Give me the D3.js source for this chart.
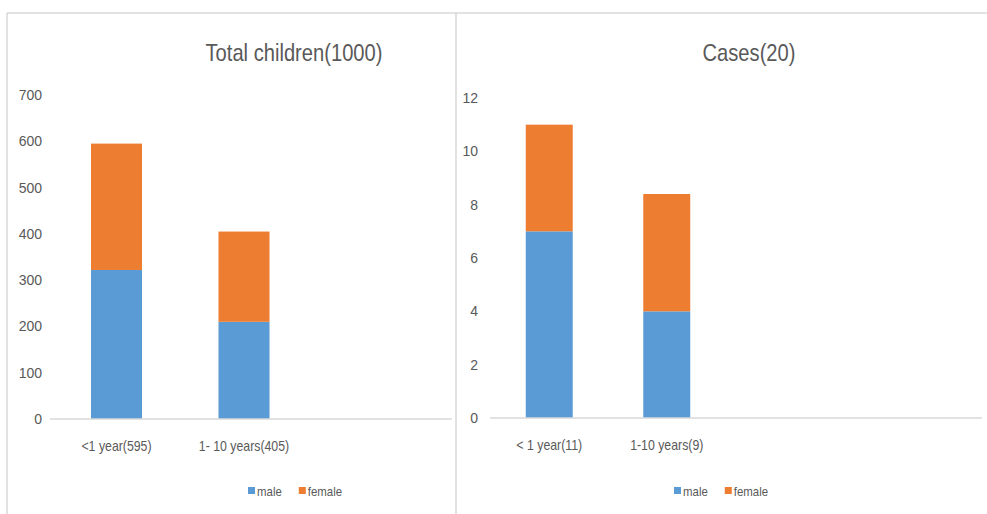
<!DOCTYPE html>
<html>
<head>
<meta charset="utf-8">
<script src="https://cdn.jsdelivr.net/npm/d3@7"></script>
<style>
  html, body { margin: 0; padding: 0; background: #fff; }
  svg { display: block; }
  text { font-family: "Liberation Sans", Arial, sans-serif; fill: #595959; }
</style>
</head>
<body>
<svg id="chart" width="987" height="514"></svg>
<script>
// ---- data ----
const seriesNames = ["male", "female"];
const seriesColors = ["#5B9BD5", "#ED7D31"];

const leftTitle = "Total children(1000)";
const leftCategories = ["<1 year(595)", "1- 10 years(405)"];
const leftMale = [322, 210];
const leftFemale = [273, 195];
const leftTicks = [0, 100, 200, 300, 400, 500, 600, 700];

const rightTitle = "Cases(20)";
const rightCategories = ["< 1 year(11)", "1-10 years(9)"];
const rightMale = [7, 4];
const rightFemale = [4, 4.4];
const rightTicks = [0, 2, 4, 6, 8, 10, 12];

// ---- drawing ----
const svg = d3.select("#chart");

// panel frames
const frame = svg.append("g").attr("fill", "none").attr("stroke", "#d9d9d9").attr("stroke-width", 1.5);
frame.append("line").attr("x1", 7).attr("x2", 987).attr("y1", 13).attr("y2", 13);
frame.append("line").attr("x1", 7).attr("x2", 7).attr("y1", 13).attr("y2", 514);
frame.append("line").attr("x1", 456).attr("x2", 456).attr("y1", 13).attr("y2", 514);

function drawPanel(cfg) {
  const g = svg.append("g");
  const y = d3.scaleLinear().domain([cfg.ticks[0], cfg.ticks[cfg.ticks.length - 1]]).range([cfg.y0, cfg.y1]);
  const x = d3.scaleBand().domain(cfg.categories).range([cfg.bandStart, cfg.bandStart + cfg.bandSpan])
    .paddingInner(0.6).paddingOuter(0.3);

  // title (slightly condensed, like the original narrow font)
  g.append("g").attr("transform", `translate(${cfg.titleX},61)`)
    .append("text").attr("text-anchor", "middle").attr("transform", "scale(0.84,1)")
    .style("font-size", "24px").text(cfg.title);

  // y axis labels
  const ya = g.append("g").attr("transform", `translate(${cfg.axisX},0)`)
    .call(d3.axisLeft(y).tickValues(cfg.ticks).tickSize(0).tickPadding(8).tickFormat(d3.format("d")));
  ya.select(".domain").remove();
  ya.selectAll("text").style("font-size", "14px").style("font-family", "'Liberation Sans', Arial, sans-serif").attr("fill", "#595959");

  // stacked bars
  const rows = cfg.categories.map((c, i) => ({ cat: c, male: cfg.male[i], female: cfg.female[i] }));
  const stack = d3.stack().keys(seriesNames)(rows);
  stack.forEach((layer, li) => {
    g.append("g").attr("fill", seriesColors[li]).selectAll("rect").data(layer).join("rect")
      .attr("x", d => x(d.data.cat))
      .attr("width", x.bandwidth())
      .attr("y", d => y(d[1]))
      .attr("height", d => y(d[0]) - y(d[1]));
  });

  // baseline
  g.append("line").attr("x1", cfg.lineX1).attr("x2", cfg.lineX2)
    .attr("y1", y(0)).attr("y2", y(0)).attr("stroke", "#d9d9d9").attr("stroke-width", 1.5);

  // category labels
  const xa = g.append("g").attr("transform", `translate(0,${y(0)})`)
    .call(d3.axisBottom(x).tickSize(0).tickPadding(22));
  xa.select(".domain").remove();
  xa.selectAll("text").style("font-size", "14px").style("font-family", "'Liberation Sans', Arial, sans-serif")
    .attr("fill", "#595959").attr("transform", "scale(0.88,1)");

  // legend
  const lg = g.append("g").attr("transform", `translate(${cfg.legendX},491)`);
  let off = 0;
  seriesNames.forEach((s, i) => {
    lg.append("rect").attr("x", off).attr("y", -4).attr("width", 7).attr("height", 7).attr("fill", seriesColors[i]);
    const tg = lg.append("g").attr("transform", `translate(${off + 9},0)`);
    const t = tg.append("text").attr("dy", "0.35em").attr("transform", "scale(0.88,1)")
      .style("font-size", "13px").text(s);
    off += 9 + t.node().getComputedTextLength() * 0.88 + 17;
  });
}

drawPanel({
  title: leftTitle, titleX: 294, categories: leftCategories, male: leftMale, female: leftFemale,
  ticks: leftTicks, y0: 419, y1: 95, axisX: 50, bandStart: 52.75, bandSpan: 255,
  lineX1: 50, lineX2: 452, legendX: 248
});
drawPanel({
  title: rightTitle, titleX: 749, categories: rightCategories, male: rightMale, female: rightFemale,
  ticks: rightTicks, y0: 418, y1: 98, axisX: 486, bandStart: 490.5, bandSpan: 235,
  lineX1: 490, lineX2: 982, legendX: 674
});
</script>
</body>
</html>
